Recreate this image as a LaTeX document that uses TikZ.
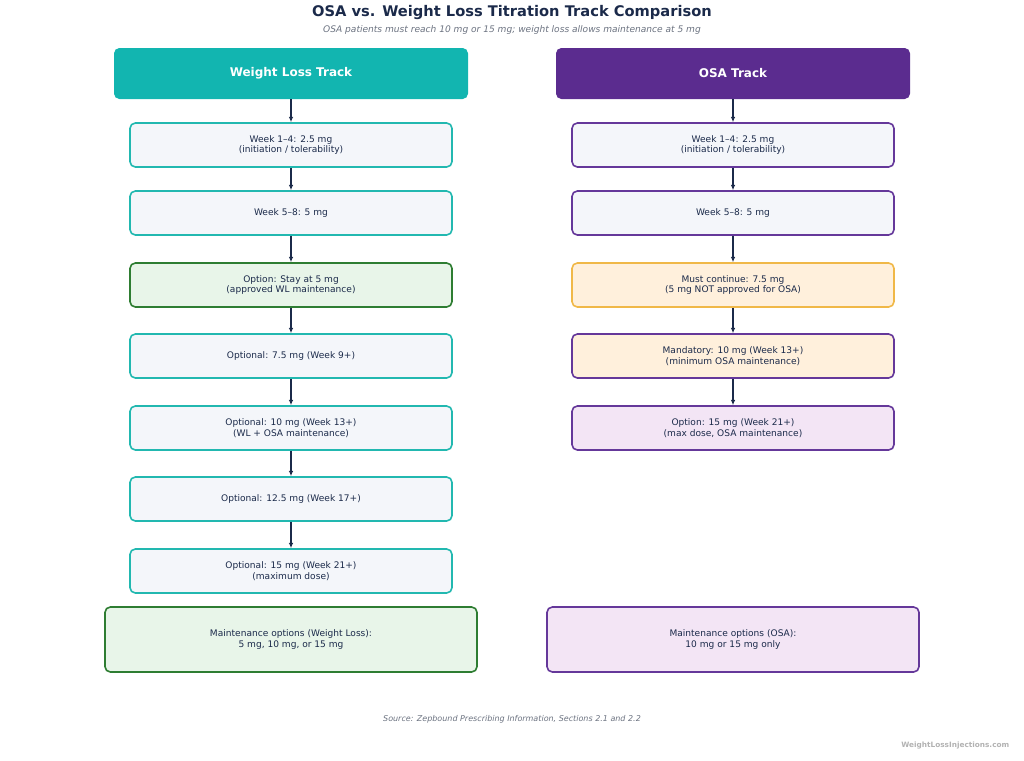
\documentclass[tikz,border=0pt]{standalone}
\usepackage{fontspec}
\setmainfont{DejaVu Sans}
\usetikzlibrary{arrows.meta}
\definecolor{navy}{HTML}{1B2A4A}
\definecolor{teal}{HTML}{12B5B0}
\definecolor{tealb}{HTML}{22B8B0}
\definecolor{purp}{HTML}{5B2C8F}
\definecolor{purpb}{HTML}{65389A}
\definecolor{boxf}{HTML}{F4F6FA}
\definecolor{grf}{HTML}{E8F5E9}
\definecolor{grb}{HTML}{2E7D32}
\definecolor{orf}{HTML}{FFF0DC}
\definecolor{orb}{HTML}{F0B848}
\definecolor{lavf}{HTML}{F3E5F5}
\definecolor{grey}{HTML}{6B7280}
\begin{document}
\begin{tikzpicture}[x=0.75pt,y=-0.75pt,
  hdr/.style={rounded corners=4pt,minimum width=354*0.75pt,minimum height=51*0.75pt,text=white,font=\fontsize{9}{11}\selectfont\bfseries},
  bx/.style={rounded corners=4pt,line width=1.2pt,minimum width=322*0.75pt,minimum height=44*0.75pt,align=center,text=navy,font=\fontsize{6.8}{8}\selectfont},
  wl/.style={bx,draw=tealb,fill=boxf},
  os/.style={bx,draw=purpb,fill=boxf},
  mx/.style={bx,minimum width=372*0.75pt,minimum height=65*0.75pt},
  ar/.style={-{Latex[length=4pt,width=3.5pt]},navy,line width=0.9pt}]
\useasboundingbox (0,0) rectangle (1024,760);
\node[font=\fontsize{11}{13}\selectfont\bfseries,text=navy] (t) at (512,13) {OSA vs. Weight Loss Titration Track Comparison};
\node[font=\fontsize{6.8}{8}\selectfont\itshape,text=grey] (st) at (512,30) {OSA patients must reach 10 mg or 15 mg; weight loss allows maintenance at 5 mg};
\node[hdr,fill=teal] (lh) at (291,73.5) {Weight Loss Track};
\node[hdr,fill=purp] (rh) at (733,73.5) {OSA Track};
\node[wl] (l1) at (291,145) {Week 1–4: 2.5 mg\\(initiation / tolerability)};
\node[wl] (l2) at (291,213) {Week 5–8: 5 mg};
\node[bx,draw=grb,fill=grf] (l3) at (291,285) {Option: Stay at 5 mg\\(approved WL maintenance)};
\node[wl] (l4) at (291,356) {Optional: 7.5 mg (Week 9+)};
\node[wl] (l5) at (291,428) {Optional: 10 mg (Week 13+)\\(WL + OSA maintenance)};
\node[wl] (l6) at (291,499) {Optional: 12.5 mg (Week 17+)};
\node[wl] (l7) at (291,571) {Optional: 15 mg (Week 21+)\\(maximum dose)};
\node[os] (r1) at (733,145) {Week 1–4: 2.5 mg\\(initiation / tolerability)};
\node[os] (r2) at (733,213) {Week 5–8: 5 mg};
\node[bx,draw=orb,fill=orf] (r3) at (733,285) {Must continue: 7.5 mg\\(5 mg NOT approved for OSA)};
\node[bx,draw=purpb,fill=orf] (r4) at (733,356) {Mandatory: 10 mg (Week 13+)\\(minimum OSA maintenance)};
\node[bx,draw=purpb,fill=lavf] (r5) at (733,428) {Option: 15 mg (Week 21+)\\(max dose, OSA maintenance)};
\node[mx,draw=grb,fill=grf] (lm) at (291,639.5) {Maintenance options (Weight Loss):\\5 mg, 10 mg, or 15 mg};
\node[mx,draw=purpb,fill=lavf] (rm) at (733,639.5) {Maintenance options (OSA):\\10 mg or 15 mg only};
\draw[ar] (lh) -- (l1);
\foreach \a/\b in {l1/l2,l2/l3,l3/l4,l4/l5,l5/l6,l6/l7,r1/r2,r2/r3,r3/r4,r4/r5} \draw[ar] (\a) -- (\b);
\draw[ar] (rh) -- (r1);
\node[font=\fontsize{6}{7}\selectfont\itshape,text=grey] (src) at (512,719) {Source: Zepbound Prescribing Information, Sections 2.1 and 2.2};
\node[font=\fontsize{5.5}{7}\selectfont\bfseries,text=gray!60,anchor=east] (wm) at (1014,745) {WeightLossInjections.com};
\end{tikzpicture}
\end{document}
